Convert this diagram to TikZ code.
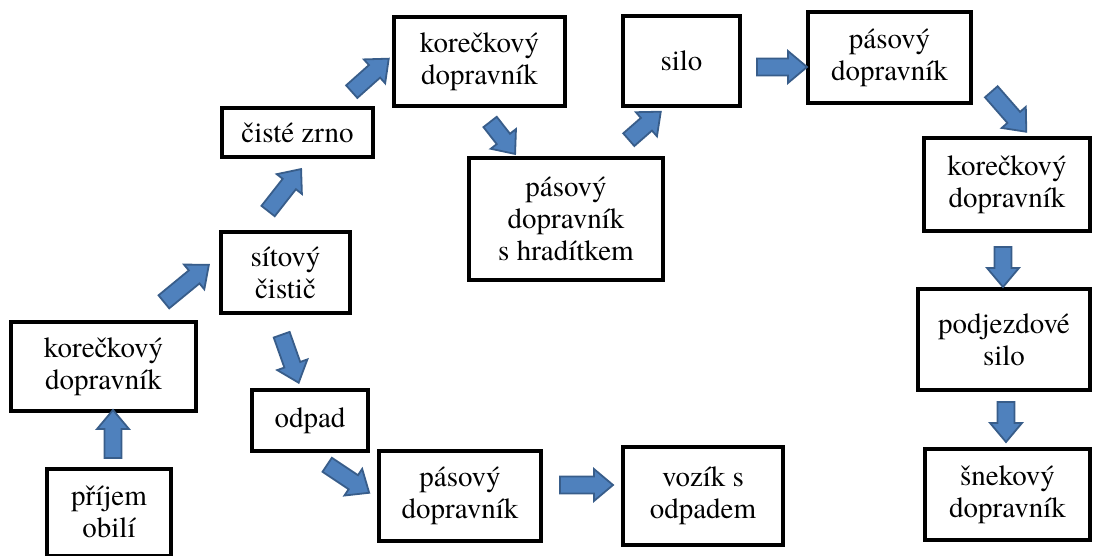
\documentclass[tikz,border=0pt]{standalone}
\usepackage{fontspec}
\setmainfont{TeX Gyre Termes}
\usepackage{tikz}
\usetikzlibrary{calc}
\usetikzlibrary{shapes.arrows}

\definecolor{arrowfill}{RGB}{79,129,189}
\definecolor{arrowedge}{RGB}{56,93,138}

\newcommand{\blockflow}[3]{%
  \path let \p1 = ($(#2)-(#1)$), \n1 = {veclen(\x1,\y1)} in
    (#1) -- node[flow, sloped, allow upside down, minimum height=\n1] (#3) {} (#2);}

\begin{document}
\begin{tikzpicture}
  [
    x = 1pt, y = -1pt,
    box/.style = {draw, line width = 4pt, rectangle, align = center,
                  inner sep = 1pt, font = \fontsize{29}{32}\selectfont},
    flow/.style = {single arrow, draw = arrowedge, fill = arrowfill,
                   line width = 1.8pt, minimum width = 32pt,
                   inner xsep = 0pt, inner ysep = 7pt,
                   single arrow tip angle = 80},
  ]

  \useasboundingbox (0,0) rectangle (1094,556);

  \node[box, minimum width = 124pt, minimum height = 87pt] (prijem) at (109,512) {příjem\\obilí};
  \node[box, minimum width = 185pt, minimum height = 89pt] (kor1) at (103.5,366.5) {korečkový\\dopravník};
  \node[box, minimum width = 129pt, minimum height = 81pt] (cistic) at (285.5,272.5) {sítový\\čistič};
  \node[box, minimum width = 151pt, minimum height = 49pt] (zrno) at (297.5,132.5) {čisté zrno};
  \node[box, minimum width = 171pt, minimum height = 89pt] (kor2) at (479.5,61.5) {korečkový\\dopravník};
  \node[box, minimum width = 194pt, minimum height = 122pt] (hradit) at (566,219) {pásový\\dopravník\\s hradítkem};
  \node[box, minimum width = 117pt, minimum height = 90pt] (silo) at (681.5,61) {silo};
  \node[box, minimum width = 163pt, minimum height = 91pt] (pas2) at (889.5,57.5) {pásový\\dopravník};
  \node[box, minimum width = 166pt, minimum height = 93pt] (kor3) at (1007,184.5) {korečkový\\dopravník};
  \node[box, minimum width = 172pt, minimum height = 101pt] (podjezd) at (1004,339.5) {podjezdové\\silo};
  \node[box, minimum width = 165pt, minimum height = 91pt] (snek) at (1007.5,494.5) {šnekový\\dopravník};
  \node[box, minimum width = 116pt, minimum height = 61pt] (odpad) at (310,420.5) {odpad};
  \node[box, minimum width = 162pt, minimum height = 90pt] (pas3) at (460,496) {pásový\\dopravník};
  \node[box, minimum width = 160pt, minimum height = 98pt] (vozik) at (703,496) {vozík s\\odpadem};

  \coordinate (a1t) at (113,463);   \coordinate (a1h) at (113,415);
  \coordinate (a2t) at (160,305);   \coordinate (a2h) at (205,268);
  \coordinate (a3t) at (265,215);   \coordinate (a3h) at (298,173);
  \coordinate (a4t) at (348,95);    \coordinate (a4h) at (385,62);
  \coordinate (a5t) at (487,118);   \coordinate (a5h) at (512,150);
  \coordinate (a6t) at (625,143);   \coordinate (a6h) at (657,115);
  \coordinate (a7t) at (752,67);    \coordinate (a7h) at (802,67);
  \coordinate (a8t) at (988,88);    \coordinate (a8h) at (1023,128);
  \coordinate (a9t) at (1003,242);  \coordinate (a9h) at (1003,282);
  \coordinate (a10t) at (1006,397); \coordinate (a10h) at (1006,437);
  \coordinate (a11t) at (280,330);  \coordinate (a11h) at (297,378);
  \coordinate (a12t) at (323,462);  \coordinate (a12h) at (365,490);
  \coordinate (a13t) at (555,485);  \coordinate (a13h) at (608,485);

  \blockflow{a1t}{a1h}{prijem-kor1}
  \blockflow{a2t}{a2h}{kor1-cistic}
  \blockflow{a3t}{a3h}{cistic-zrno}
  \blockflow{a4t}{a4h}{zrno-kor2}
  \blockflow{a5t}{a5h}{kor2-hradit}
  \blockflow{a6t}{a6h}{hradit-silo}
  \blockflow{a7t}{a7h}{silo-pas2}
  \blockflow{a8t}{a8h}{pas2-kor3}
  \blockflow{a9t}{a9h}{kor3-podjezd}
  \blockflow{a10t}{a10h}{podjezd-snek}
  \blockflow{a11t}{a11h}{cistic-odpad}
  \blockflow{a12t}{a12h}{odpad-pas3}
  \blockflow{a13t}{a13h}{pas3-vozik}

\end{tikzpicture}
\end{document}
